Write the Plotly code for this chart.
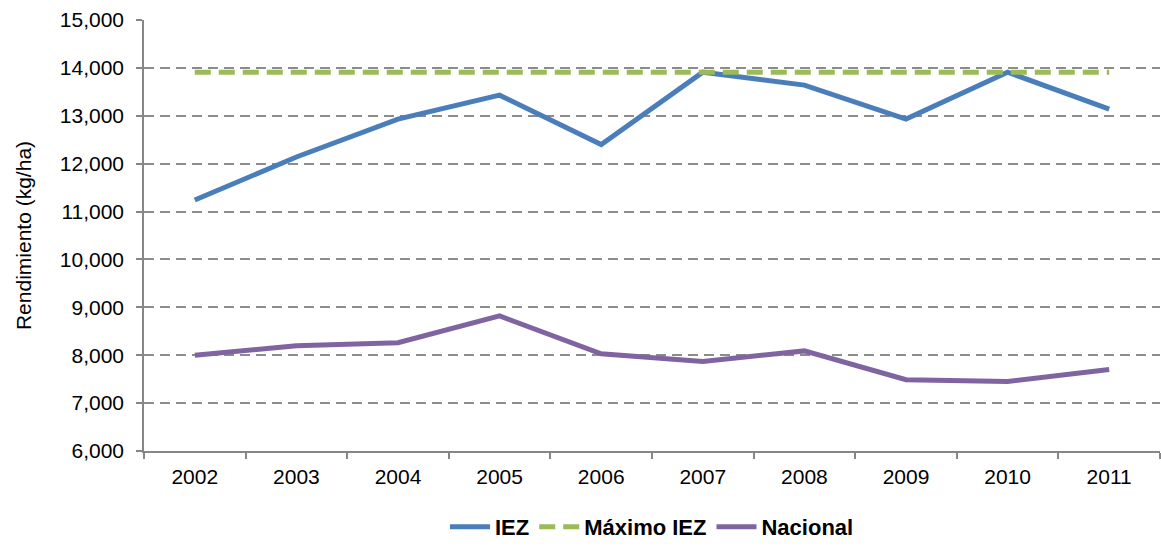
import plotly.graph_objects as go

years = ["2002", "2003", "2004", "2005", "2006", "2007", "2008", "2009", "2010", "2011"]
iez = [11240, 12140, 12930, 13430, 12400, 13910, 13640, 12930, 13910, 13140]
maximo_iez = [13910] * 10
nacional = [8000, 8200, 8260, 8820, 8030, 7870, 8090, 7490, 7450, 7700]

fig = go.Figure()
fig.add_trace(go.Scatter(x=years, y=iez, name="IEZ", mode="lines",
                         line=dict(color="#4a7ebb", width=5)))
fig.add_trace(go.Scatter(x=years, y=maximo_iez, name="Máximo IEZ", mode="lines",
                         line=dict(color="#9bbb59", width=5, dash="16px,8px")))
fig.add_trace(go.Scatter(x=years, y=nacional, name="Nacional", mode="lines",
                         line=dict(color="#8064a2", width=5)))

font = "Liberation Sans, Arial, sans-serif"
fig.update_layout(
    width=1161, height=546,
    margin=dict(l=144, r=1, t=20, b=95, autoexpand=False),
    paper_bgcolor="white", plot_bgcolor="white",
    font=dict(family=font, size=21, color="black"),
    showlegend=True,
    legend=dict(orientation="h", x=0.5, xanchor="center",
                yref="container", y=0.035, yanchor="middle",
                font=dict(family=font, size=22, color="black", weight="bold"),
                itemwidth=40, tracegroupgap=0),
    xaxis=dict(type="category", range=[-0.5, 9.5], tickson="boundaries",
               showline=True, linecolor="#868686", linewidth=1.5,
               ticks="outside", ticklen=6, tickcolor="#868686", tickwidth=1.5,
               ticklabelstandoff=6,
               showgrid=False, tickfont=dict(size=21)),
    yaxis=dict(range=[6000, 15000], dtick=1000, tickformat=",d",
               showline=True, linecolor="#868686", linewidth=1.5,
               ticks="outside", ticklen=6, tickcolor="#868686", tickwidth=1.5,
               ticklabelstandoff=8,
               showgrid=True, gridcolor="#8c8c8c", gridwidth=1.5, griddash="10px,6px",
               zeroline=False, tickfont=dict(size=21),
               title=dict(text="Rendimiento (kg/ha)", font=dict(size=21), standoff=22)),
)
fig.write_html("out.html")
